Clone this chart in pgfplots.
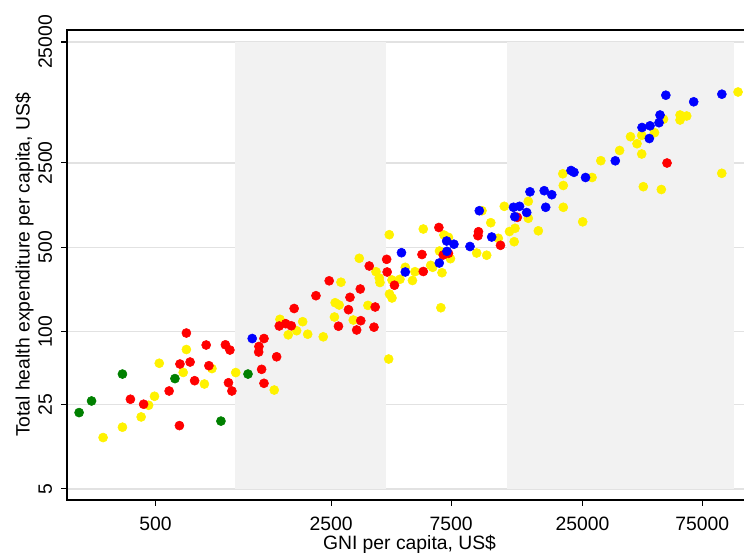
\documentclass[border=0pt]{standalone}
\usepackage{fontspec}
\setmainfont{Liberation Sans}
\usepackage{pgfplots}
\pgfplotsset{compat=1.18}
\usetikzlibrary{calc}
\definecolor{bandgray}{RGB}{242,242,242}
\definecolor{gridgray}{RGB}{226,226,226}
\definecolor{pgreen}{RGB}{0,128,0}
\newcommand{\lblfont}{\fontsize{14.5}{17}\selectfont}
\begin{document}
\begin{tikzpicture}
\begin{axis}[
  scale only axis, width=513.75pt, height=352.5pt,
  xmode=log, ymode=log,
  xmin=222, xmax=118250, ymin=4.044, ymax=31440,
  xtick={500,2500,7500,25000,75000},
  xticklabels={500,2500,7500,25000,75000},
  ytick={5,25,100,500,2500,25000},
  yticklabels={5,25,100,500,2500,25000},
  minor xtick={}, minor ytick={},
  tick pos=left, tick align=outside,
  major tick length=4.5pt,
  tick style={black, line width=0.8pt},
  axis line style={black, line width=0.8pt},
  ymajorgrids, major grid style={gridgray, line width=1.1pt},
  tick label style={font=\lblfont},
  yticklabel style={rotate=90, anchor=south, inner sep=0pt},
  xticklabel style={anchor=north, inner sep=0pt},
  yticklabel shift=6.5pt,
  xticklabel shift=8pt,
  xlabel={GNI per capita, US\$},
  ylabel={Total health expenditure per capita, US\$},
  every axis x label/.style={at={(axis description cs:0.5,-0.1045)}, anchor=base, font=\lblfont, inner sep=0pt},
  every axis y label/.style={at={(axis description cs:-0.0545,0.5)}, anchor=base, rotate=90, font=\lblfont},
]
% income-group bands
\addplot[fill=bandgray, draw=none, no markers, forget plot] coordinates {(1035,5) (4120,5) (4120,25000) (1035,25000)} -- cycle;
\addplot[fill=bandgray, draw=none, no markers, forget plot] coordinates {(12550,5) (100000,5) (100000,25000) (12550,25000)} -- cycle;

% yellow
\addplot[only marks, mark=*, mark size=3.4pt, mark options={draw=yellow, fill=yellow}] coordinates {
(309,13.3) (369,16.2) (438,19.7) (469,24.6) (495,29.2) (517,54.8) (644,46.0) (663,71.2)
(782,36.9) (838,49.5) (1042,45.9) (1483,32.9) (1563,126.6) (1686,94.2) (1821,101.9) (1925,121.0)
(2015,95.3) (2324,90.7) (2575,132.3) (2734,256.8) (2592,173.7) (2689,166.3) (3060,124.9) (3501,165.1)
(3908,255.4) (3883,278.2) (4264,205.1) (4363,190.1) (5263,265.3) (6829,157.9) (4233,59.4) (3233,405.0)
(3768,313.8) (4256,635.2) (4363,267.9) (4694,271.5) (4929,341.2) (5386,313.8) (5813,707.9) (6221,354.4)
(6338,341.2) (7027,631.5) (7322,604.3) (6743,465.4) (7458,402.0) (6899,307.8) (10791,798.4) (11561,593.0)
(9483,448.1) (10394,429.6) (12212,1091) (12809,674.8) (13472,717.5) (13373,555.7) (15217,1200) (15217,868.1)
(16686,684.2) (20973,1071) (20973,1623) (20877,2028) (25057,812.1) (27290,1890) (29580,2603) (35137,3162)
(38840,4113) (41220,3598) (43030,4224) (48390,4439) (43030,2957) (43670,1586) (51500,1503) (52550,5741)
(61150,6220) (65010,6103) (61150,5653) (89620,2047) (104040,9641) (9954,1003)
};
% red
\addplot[only marks, mark=*, mark size=3.4pt, mark options={draw=red, fill=red}] coordinates {
(397,27.6) (448,25.1) (566,32.3) (622,16.7) (625,54.0) (663,97.5) (686,56.1) (715,39.3)
(795,77.6) (815,52.3) (948,77.9) (988,70.5) (975,37.8) (1006,32.3) (1350,87.8) (1289,75.4)
(1286,67.9) (1516,62.0) (1321,48.8) (1350,37.4) (1553,111.5) (1647,116.5) (1734,111.9) (1780,155.6)
(2174,198.6) (2454,263.8) (2672,111.0) (2929,152.1) (2969,192.6) (3263,225.6) (3278,123.3) (3157,103.3)
(3700,109.0) (3741,160.1) (4463,242.5) (3543,349.8) (4156,397.3) (4175,312.0) (5744,435.4) (5813,315.0)
(6706,728.8) (6982,431.3) (7322,445.5) (9641,672.3) (9596,623.0) (11795,518.9) (13757,884.9) (54270,2491)
};
% green
\addplot[only marks, mark=*, mark size=3.4pt, mark options={draw=pgreen, fill=pgreen}] coordinates {
(248,21.4) (278,26.7) (369,44.6) (597,40.9) (910,18.2) (1166,44.6)
};
% blue
\addplot[only marks, mark=*, mark size=3.4pt, mark options={draw=blue, fill=blue}] coordinates {
(1212,87.8) (4760,450.6) (4929,312.0) (7202,563.2) (7700,529.9) (7222,462.7) (6731,370.4) (8919,507.3)
(9712,1003) (10881,607.8) (13287,1071) (14048,1091) (13447,895.1) (14997,969.6) (15455,1439) (17609,1469)
(18874,1361) (17850,1071) (22510,2159) (23134,2086) (25714,1890) (33780,2598) (43150,4901) (46440,5061)
(46140,3974) (50900,6220) (50430,5370) (53680,9071) (69300,8000) (89700,9246)
};
\coordinate (sw) at (rel axis cs:0,0);
\coordinate (ne) at (rel axis cs:1,1);
\end{axis}
\pgfresetboundingbox
\path[use as bounding box] ($(sw)+(-50.25pt,-39pt)$) rectangle ($(ne)+(-6pt,22.5pt)$);
\end{tikzpicture}
\end{document}
